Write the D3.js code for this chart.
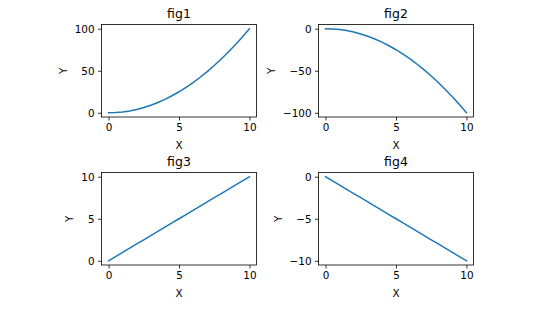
<!DOCTYPE html>
<html>
<head>
<meta charset="utf-8">
<script src="https://cdn.jsdelivr.net/npm/d3@7.9.0/dist/d3.min.js"></script>
<style>
  html, body { margin: 0; padding: 0; background: #fff; }
  svg { display: block; font-family: "DejaVu Sans", sans-serif; }
</style>
</head>
<body>
<svg id="chart" width="560" height="312"></svg>
<script>
// x samples shared by all four panels
const xs = [0, 0.5, 1, 1.5, 2, 2.5, 3, 3.5, 4, 4.5, 5, 5.5, 6, 6.5, 7, 7.5, 8, 8.5, 9, 9.5, 10];

// series values
const fig1Y = [0, 0.25, 1, 2.25, 4, 6.25, 9, 12.25, 16, 20.25, 25, 30.25, 36, 42.25, 49, 56.25, 64, 72.25, 81, 90.25, 100];
const fig2Y = [0, -0.25, -1, -2.25, -4, -6.25, -9, -12.25, -16, -20.25, -25, -30.25, -36, -42.25, -49, -56.25, -64, -72.25, -81, -90.25, -100];
const fig3Y = [0, 0.5, 1, 1.5, 2, 2.5, 3, 3.5, 4, 4.5, 5, 5.5, 6, 6.5, 7, 7.5, 8, 8.5, 9, 9.5, 10];
const fig4Y = [0, -0.5, -1, -1.5, -2, -2.5, -3, -3.5, -4, -4.5, -5, -5.5, -6, -6.5, -7, -7.5, -8, -8.5, -9, -9.5, -10];

// tick labels
const xTicks = [0, 5, 10];
const titles = ["fig1", "fig2", "fig3", "fig4"];
const yTicks = [[0, 50, 100], [0, -50, -100], [0, 5, 10], [0, -5, -10]];
const series = [fig1Y, fig2Y, fig3Y, fig4Y];

// panel boxes (pixels)
const colLeft = [101.5, 318.5];
const rowTop = [24.5, 172.5];
const w = 155, h = 92.5;

const svg = d3.select("#chart");

series.forEach((ys, i) => {
  const left = colLeft[i % 2];
  const top = rowTop[Math.floor(i / 2)];
  const g = svg.append("g").attr("transform", `translate(${left},${top})`);

  // 5% margins like matplotlib autoscale
  const xMin = d3.min(xs), xMax = d3.max(xs);
  const yMin = d3.min(ys), yMax = d3.max(ys);
  const xPad = (xMax - xMin) * 0.05, yPad = (yMax - yMin) * 0.05;
  const x = d3.scaleLinear().domain([xMin - xPad, xMax + xPad]).range([0, w]);
  const y = d3.scaleLinear().domain([yMin - yPad, yMax + yPad]).range([h, 0]);

  // line
  g.append("path")
    .datum(xs.map((v, k) => [v, ys[k]]))
    .attr("fill", "none")
    .attr("stroke", "#1f77b4")
    .attr("stroke-width", 1.5)
    .attr("stroke-linecap", "square")
    .attr("d", d3.line().x(d => x(d[0])).y(d => y(d[1])));

  // axes
  const xAxis = g.append("g").attr("transform", `translate(0,${h})`)
    .call(d3.axisBottom(x).tickValues(xTicks).tickSize(3.5).tickPadding(3.5));
  const yAxis = g.append("g")
    .call(d3.axisLeft(y).tickValues(yTicks[i]).tickSize(3.5).tickPadding(3.5));

  [xAxis, yAxis].forEach(a => {
    a.select(".domain").remove();
    a.selectAll("line").attr("stroke", "#000").attr("stroke-width", 0.8);
    a.selectAll("text").attr("fill", "#000")
      .style("font-family", "DejaVu Sans").style("font-size", "10.4px");
  });

  // frame
  g.append("rect")
    .attr("width", w).attr("height", h)
    .attr("fill", "none").attr("stroke", "#000").attr("stroke-width", 0.8);

  // title
  g.append("text")
    .attr("x", w / 2).attr("y", -6.5)
    .attr("text-anchor", "middle")
    .style("font-size", "12.5px")
    .text(titles[i]);

  // x label
  g.append("text")
    .attr("x", w / 2).attr("y", h + 31.5)
    .attr("text-anchor", "middle")
    .style("font-size", "10.4px")
    .text("X");

  // y label, left of the tick labels
  const tickLeft = d3.min(yAxis.selectAll("text").nodes(), n => n.getBBox().x);
  g.append("text")
    .attr("transform", `translate(${tickLeft - 8},${h / 2}) rotate(-90)`)
    .attr("text-anchor", "middle")
    .style("font-size", "10.4px")
    .text("Y");
});
</script>
</body>
</html>
